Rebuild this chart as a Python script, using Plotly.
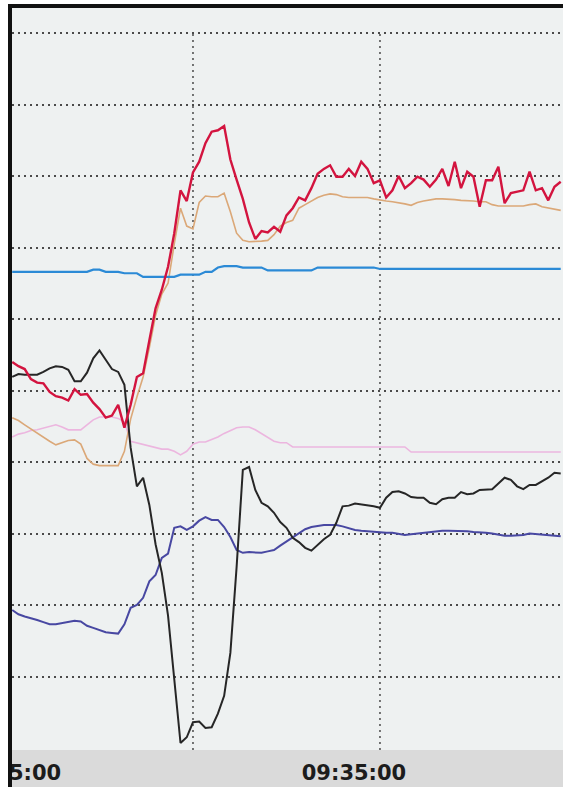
import pandas as pd
import plotly.graph_objects as go

# ---- data (sampled every 10.84 s) ----
times = pd.date_range("2021-01-01 09:25:05.6", periods=89, freq="10840ms")

red = [54.0, 53.4, 53.0, 51.6, 51.1, 51.0, 49.8, 49.2, 49.0, 48.6,
       50.2, 49.4, 49.5, 48.3, 47.4, 46.2, 46.5, 48.0, 44.8, 48.0,
       51.9, 52.4, 57.0, 61.5, 64.1, 67.3, 72.0, 78.0, 76.5, 80.5,
       82.0, 84.6, 86.2, 86.4, 87.0, 82.3, 79.5, 76.8, 73.5, 71.2,
       72.3, 72.1, 72.9, 72.2, 74.5, 75.5, 77.0, 76.6, 78.3, 80.3,
       81.0, 81.5, 79.9, 79.9, 81.0, 80.0, 82.0, 81.0, 79.0, 79.4,
       77.0, 78.0, 80.0, 78.3, 79.0, 79.9, 79.5, 78.5, 79.5, 81.0,
       78.6, 82.0, 78.3, 80.6, 79.9, 75.7, 79.4, 79.4, 81.3, 76.2,
       77.6, 77.8, 78.0, 80.6, 78.0, 78.3, 76.6, 78.5, 79.2]

tan = [46.2, 45.8, 45.2, 44.6, 44.0, 43.5, 42.9, 42.4, 42.7, 43.0,
       43.1, 42.5, 40.5, 39.7, 39.5, 39.5, 39.5, 39.5, 41.5, 46.0,
       49.1, 51.9, 56.0, 60.5, 63.5, 65.0, 70.5, 75.5, 73.0, 72.6,
       76.3, 77.2, 77.1, 77.1, 77.6, 75.0, 72.0, 71.0, 70.8, 70.8,
       70.9, 71.0, 71.8, 73.0, 73.5, 73.8, 75.5, 76.0, 76.5, 77.0,
       77.3, 77.5, 77.4, 77.1, 77.0, 77.0, 77.0, 77.0, 76.8, 76.6,
       76.5, 76.4, 76.3, 76.1, 75.9, 76.3, 76.5, 76.7, 76.8, 76.8,
       76.8, 76.7, 76.6, 76.6, 76.5, 76.4, 76.4, 76.0, 75.8, 75.8,
       75.8, 75.8, 75.8, 76.0, 76.1, 75.7, 75.5, 75.4, 75.2]

blue = [66.6, 66.6, 66.6, 66.6, 66.6, 66.6, 66.6, 66.6, 66.6, 66.6,
        66.6, 66.6, 66.6, 66.9, 66.9, 66.6, 66.6, 66.6, 66.4, 66.4,
        66.4, 65.9, 65.9, 65.9, 65.9, 65.9, 65.9, 66.2, 66.2, 66.2,
        66.2, 66.6, 66.6, 67.2, 67.4, 67.4, 67.4, 67.2, 67.2, 67.2,
        67.2, 66.8, 66.8, 66.8, 66.8, 66.8, 66.8, 66.8, 66.8, 67.2,
        67.2, 67.2, 67.2, 67.2, 67.2, 67.2, 67.2, 67.2, 67.2, 67.0,
        67.0, 67.0, 67.0, 67.0, 67.0, 67.0, 67.0, 67.0, 67.0, 67.0,
        67.0, 67.0, 67.0, 67.0, 67.0, 67.0, 67.0, 67.0, 67.0, 67.0,
        67.0, 67.0, 67.0, 67.0, 67.0, 67.0, 67.0, 67.0, 67.0]

black = [51.9, 52.3, 52.2, 52.2, 52.2, 52.6, 53.1, 53.4, 53.3, 52.9,
         51.3, 51.3, 52.5, 54.5, 55.6, 54.3, 53.0, 52.6, 50.8, 42.0,
         36.6, 37.8, 34.0, 28.5, 24.5, 18.5, 10.0, 0.7, 1.5, 3.6,
         3.7, 2.8, 2.9, 4.8, 7.3, 13.3, 25.3, 38.9, 39.3, 36.1,
         34.3, 33.8, 32.9, 31.6, 30.8, 29.4, 28.8, 28.0, 27.6, 28.4,
         29.2, 29.8, 31.5, 33.8, 33.9, 34.2, 34.1, 34.0, 33.8, 33.6,
         35.0, 35.8, 35.9, 35.6, 35.1, 35.0, 35.0, 34.3, 34.1, 34.8,
         35.0, 35.0, 35.8, 35.5, 35.6, 36.1, 36.1, 36.2, 37.0, 37.8,
         37.5, 36.6, 36.2, 36.8, 36.8, 37.3, 37.8, 38.5, 38.4]

navy = [19.3, 18.7, 18.4, 18.2, 17.9, 17.6, 17.3, 17.3, 17.5, 17.6,
        17.8, 17.7, 17.1, 16.8, 16.5, 16.2, 16.1, 16.0, 17.3, 19.6,
        20.0, 21.0, 23.3, 24.2, 26.6, 27.2, 30.8, 31.0, 30.5, 31.0,
        31.8, 32.3, 31.9, 31.9, 30.9, 29.5, 27.7, 27.3, 27.4, 27.4,
        27.3, 27.5, 27.7, 28.3, 28.9, 29.4, 30.0, 30.6, 30.9, 31.1,
        31.2, 31.2, 31.2, 31.0, 30.7, 30.5, 30.4, 30.3, 30.2, 30.1,
        30.1, 30.1, 29.9, 29.8, 29.9, 30.0, 30.2, 30.3, 30.4, 30.4,
        30.4, 30.4, 30.3, 30.3, 30.2, 30.2, 30.1, 30.0, 29.8, 29.7,
        29.7, 29.7, 29.8, 30.0, 29.9, 29.8, 29.7, 29.6, 29.6]

pink = [43.5, 43.9, 44.1, 44.4, 44.5, 44.7, 44.9, 45.2, 44.9, 44.5,
        44.5, 44.5, 45.2, 45.9, 46.3, 46.3, 46.3, 46.1, 45.6, 42.9,
        42.7, 42.4, 42.2, 42.0, 41.8, 41.8, 41.5, 41.0, 41.5, 42.5,
        42.8, 42.8, 43.1, 43.5, 44.0, 44.4, 44.8, 44.9, 44.9, 44.5,
        44.0, 43.5, 42.9, 42.7, 42.7, 42.1, 42.1, 42.1, 42.1, 42.1,
        42.1, 42.1, 42.1, 42.1, 42.1, 42.1, 42.1, 42.1, 42.1, 42.1,
        42.1, 42.1, 42.1, 42.1, 41.4, 41.4, 41.4, 41.4, 41.4, 41.4,
        41.4, 41.4, 41.4, 41.4, 41.4, 41.4, 41.4, 41.4, 41.4, 41.4,
        41.4, 41.4, 41.4, 41.4, 41.4, 41.4, 41.4, 41.4, 41.4]

tick_times = ["2021-01-01 09:25:00", "2021-01-01 09:35:00"]
tick_text = ["09:25:00", "09:35:00"]
x_range = ["2021-01-01 09:24:44.35", "2021-01-01 09:41:03.5"]
v_grid_times = ["2021-01-01 09:30:20", "2021-01-01 09:35:45.2"]
y_grid = [10, 20, 30, 40, 50, 60, 70, 80, 90, 100]
y_range = [-0.28, 103.5]

# ---- figure ----
W, H = 563, 787
ML, MR, MT, MB = 0, 0, 8, 37
PW, PH = W - ML - MR, H - MT - MB
GRID_COLOR, GRID_DASH = "#4a4a4a", "2px,4px"

series = [
    (pink, "#ecb6df", 1.6),
    (tan, "#dba878", 1.6),
    (blue, "#2b8ad6", 2.2),
    (navy, "#4848a2", 2.0),
    (black, "#262626", 2.0),
    (red, "#d3143f", 2.4),
]

fig = go.Figure()
for vals, col, w in series:
    fig.add_trace(go.Scatter(x=times, y=vals, mode="lines",
                             line=dict(color=col, width=w), hoverinfo="skip"))

def px_x(p):
    return (p - ML) / PW

def px_y(p):
    return (MT + PH - p) / PH

shapes = [
    # grey label band
    dict(type="rect", xref="paper", yref="paper", x0=0, x1=1,
         y0=px_y(H), y1=0, fillcolor="#dadada", line=dict(width=0), layer="below"),
]
# vertical dotted grid lines (from the top horizontal grid line downwards)
for t in v_grid_times:
    shapes.append(dict(type="line", xref="x", yref="y", x0=t, x1=t,
                       y0=y_range[0], y1=y_grid[-1], layer="between",
                       line=dict(color=GRID_COLOR, width=1.5, dash=GRID_DASH)))
shapes += [
    # white margin at the left
    dict(type="rect", xref="paper", yref="paper", x0=-0.01, x1=px_x(8),
         y0=px_y(H + 2), y1=px_y(-2), fillcolor="white", line=dict(width=0), layer="above"),
    # black frame: left and top
    dict(type="rect", xref="paper", yref="paper", x0=px_x(8), x1=px_x(12),
         y0=px_y(H + 2), y1=px_y(4), fillcolor="#111111", line=dict(width=0), layer="above"),
    dict(type="rect", xref="paper", yref="paper", x0=px_x(8), x1=1.01,
         y0=px_y(8), y1=px_y(4), fillcolor="#111111", line=dict(width=0), layer="above"),
]

fig.update_layout(
    width=W, height=H,
    margin=dict(l=ML, r=MR, t=MT, b=MB, pad=0, autoexpand=False),
    paper_bgcolor="white",
    plot_bgcolor="#eef1f1",
    showlegend=False,
    shapes=shapes,
    xaxis=dict(
        type="date", range=x_range, fixedrange=True, automargin=False,
        tickvals=tick_times, ticktext=tick_text,
        showgrid=False, zeroline=False, showline=False, ticks="",
        ticklabelstandoff=8, ticklabeloverflow="allow",
        tickfont=dict(family="DejaVu Sans", size=21, weight="bold", color="#1c1c1c"),
    ),
    yaxis=dict(
        range=y_range, fixedrange=True, automargin=False,
        tickvals=y_grid, showticklabels=False,
        showgrid=True, gridcolor=GRID_COLOR, gridwidth=1.5, griddash=GRID_DASH,
        zeroline=False, showline=False, ticks="",
    ),
)

fig.write_html(
    "out.html",
    config={"displayModeBar": False},
    post_script="document.body.style.margin='0';document.body.style.overflow='hidden';",
)
